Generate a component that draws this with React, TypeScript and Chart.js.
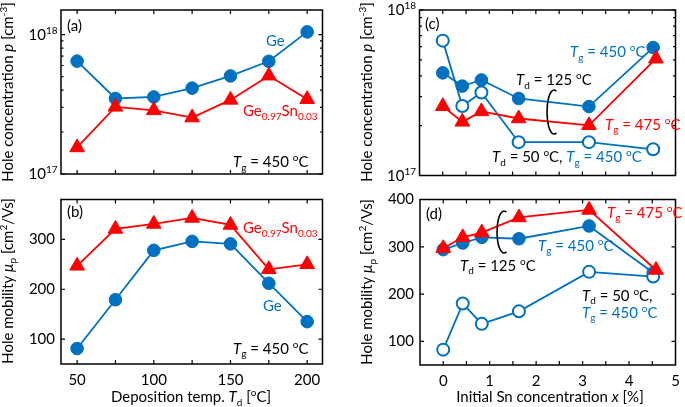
import React, { useEffect, useRef } from "react";
import { Chart, registerables } from "chart.js";
Chart.register(...registerables);

const BLUE = "#0070C0";
const RED = "#FF0000";
const FONT = "Lato";

// ---------- Data: panels (a) and (b) ----------
const tdValues = [50, 75, 100, 125, 150, 175, 200];
const geConc = [6.45e17, 3.48e17, 3.57e17, 4.13e17, 5.05e17, 6.43e17, 1.045e18];
const geSnConc = [1.55e17, 3.03e17, 2.86e17, 2.54e17, 3.4e17, 5.07e17, 3.44e17];
const geMob = [81, 179, 278, 296, 291, 212, 135];
const geSnMob = [247, 321, 331, 343, 329, 240, 250];

// ---------- Data: panels (c) and (d) ----------
const snX = [0, 0.42, 0.83, 1.63, 3.14, 4.52];
const snXTri = [0, 0.42, 0.83, 1.63, 3.14, 4.58];
const concTd125Tg450 = [4.17e17, 3.47e17, 3.78e17, 2.92e17, 2.61e17, 5.93e17];
const concTd50Tg450 = [6.53e17, 2.63e17, 3.17e17, 1.59e17, 1.59e17, 1.44e17];
const concTd125Tg475 = [2.62e17, 2.11e17, 2.44e17, 2.21e17, 2.01e17, 5.08e17];
const mobTd125Tg450 = [294, 308, 320, 317, 344, 245];
const mobTd50Tg450 = [82.5, 180, 137, 163.5, 247, 237];
const mobTd125Tg475 = [297, 320, 330, 362, 378, 251];

// ---------- Ticks ----------
const tdTicks = [50, 75, 100, 125, 150, 175, 200];
const tdLabeled = [50, 100, 150, 200];
const snTicks = [0, 0.5, 1, 1.5, 2, 2.5, 3, 3.5, 4, 4.5, 5];
const snLabeled = [0, 1, 2, 3, 4, 5];
const mobTicksB = [100, 200, 300];
const mobTicksD = [100, 200, 300, 400];
const logMajor = [1e17, 1e18];
const logMinor = [2e17, 3e17, 4e17, 5e17, 6e17, 7e17, 8e17, 9e17];

type Seg = { t: string; c?: string; i?: boolean; s?: "sub" | "sup" };
type TextItem = { segs: Seg[]; x: number; y: number; align?: "left" | "center" | "right"; rot?: number };

const pts = (xs: number[], ys: number[]) => xs.map((x, k) => ({ x, y: ys[k] }));

const T = (sub: string, val: string, c = "#000"): Seg[] => [
  { t: "T", i: true, c },
  { t: sub, s: "sub", c },
  { t: " = " + val + " ", c },
  { t: "o", s: "sup", c },
  { t: "C", c },
];
const geSnLabel: Seg[] = [
  { t: "Ge", c: RED },
  { t: "0.97", s: "sub", c: RED },
  { t: "Sn", c: RED },
  { t: "0.03", s: "sub", c: RED },
];

function drawRich(ctx: CanvasRenderingContext2D, it: TextItem, base = 15) {
  const small = 10;
  const fontFor = (sg: Seg) => `${sg.i ? "italic " : ""}${sg.s ? small : base}px ${FONT}`;
  let total = 0;
  const widths = it.segs.map((sg) => {
    ctx.font = fontFor(sg);
    const w = ctx.measureText(sg.t).width;
    total += w;
    return w;
  });
  ctx.save();
  ctx.translate(it.x, it.y);
  if (it.rot) ctx.rotate(it.rot);
  const align = it.align || "left";
  let cx = align === "left" ? 0 : align === "center" ? -total / 2 : -total;
  const baseY = base * 0.36;
  ctx.textBaseline = "alphabetic";
  ctx.textAlign = "left";
  it.segs.forEach((sg, k) => {
    ctx.font = fontFor(sg);
    ctx.fillStyle = sg.c || "#000";
    const dy = sg.s === "sub" ? 3.5 : sg.s === "sup" ? -6 : 0;
    ctx.fillText(sg.t, cx, baseY + dy);
    cx += widths[k];
  });
  ctx.restore();
}

type PanelDef = {
  canvas: { left: number; top: number; w: number; h: number };
  area: { l: number; t: number; r: number; b: number };
  xMin: number;
  xMax: number;
  xTicks: number[];
  xLabeled: number[] | null;
  yLog: boolean;
  yMin: number;
  yMax: number;
  yTicks: number[];
  yMinor: number[];
  datasets: any[];
  texts: TextItem[];
  brackets: { cx: number; cy: number; rx: number; ry: number }[];
};

const triDs = (data: any[]) => ({
  data,
  borderColor: RED,
  borderWidth: 1.8,
  pointStyle: "triangle",
  pointRadius: 8.5,
  pointBackgroundColor: RED,
  pointBorderColor: RED,
  pointBorderWidth: 1,
});
const dotDs = (data: any[]) => ({
  data,
  borderColor: BLUE,
  borderWidth: 1.8,
  pointStyle: "circle",
  pointRadius: 6.3,
  pointBackgroundColor: BLUE,
  pointBorderColor: BLUE,
  pointBorderWidth: 1,
});
const openDs = (data: any[]) => ({
  data,
  borderColor: BLUE,
  borderWidth: 1.8,
  pointStyle: "circle",
  pointRadius: 6,
  pointBackgroundColor: "#fff",
  pointBorderColor: BLUE,
  pointBorderWidth: 2,
});

const panels: PanelDef[] = [
  {
    canvas: { left: 0, top: 0, w: 342, h: 190 },
    area: { l: 61, t: 10, r: 322.5, b: 174 },
    xMin: 39.5, xMax: 210, xTicks: tdTicks, xLabeled: null,
    yLog: true, yMin: 1e17, yMax: 1.5e18, yTicks: logMajor, yMinor: logMinor,
    datasets: [triDs(pts(tdValues, geSnConc)), dotDs(pts(tdValues, geConc))],
    texts: [
      { segs: [{ t: "(a)" }], x: 67, y: 26 },
      { segs: [{ t: "Ge", c: BLUE }], x: 266, y: 41 },
      { segs: geSnLabel, x: 243, y: 111 },
      { segs: T("g", "450"), x: 233, y: 162 },
      {
        segs: [{ t: "Hole concentration " }, { t: "p", i: true }, { t: " [cm" }, { t: "-3", s: "sup" }, { t: "]" }],
        x: 7.5, y: 92, align: "center", rot: -Math.PI / 2,
      },
    ],
    brackets: [],
  },
  {
    canvas: { left: 0, top: 190, w: 342, h: 217 },
    area: { l: 61, t: 198.5, r: 322.5, b: 364 },
    xMin: 39.5, xMax: 210, xTicks: tdTicks, xLabeled: tdLabeled,
    yLog: false, yMin: 50, yMax: 380, yTicks: mobTicksB, yMinor: [],
    datasets: [triDs(pts(tdValues, geSnMob)), dotDs(pts(tdValues, geMob))],
    texts: [
      { segs: [{ t: "(b)" }], x: 67, y: 212 },
      { segs: geSnLabel, x: 243, y: 228 },
      { segs: [{ t: "Ge", c: BLUE }], x: 263, y: 306 },
      { segs: T("g", "450"), x: 233, y: 348.5 },
      {
        segs: [{ t: "Hole mobility " }, { t: "μ", i: true }, { t: "p", s: "sub" }, { t: " [cm" }, { t: "2", s: "sup" }, { t: "/Vs]" }],
        x: 7.5, y: 281, align: "center", rot: -Math.PI / 2,
      },
      {
        segs: [{ t: "Deposition temp. " }, { t: "T", i: true }, { t: "d", s: "sub" }, { t: " [" }, { t: "o", s: "sup" }, { t: "C]" }],
        x: 191, y: 397, align: "center",
      },
    ],
    brackets: [],
  },
  {
    canvas: { left: 342, top: 0, w: 343, h: 190 },
    area: { l: 419.5, t: 10, r: 682.3, b: 175.5 },
    xMin: -0.5, xMax: 5, xTicks: snTicks, xLabeled: null,
    yLog: true, yMin: 1e17, yMax: 1e18, yTicks: logMajor, yMinor: logMinor,
    datasets: [
      triDs(pts(snXTri, concTd125Tg475)),
      openDs(pts(snX, concTd50Tg450)),
      dotDs(pts(snX, concTd125Tg450)),
    ],
    texts: [
      { segs: [{ t: "(c)" }], x: 425, y: 24 },
      { segs: T("g", "450", BLUE), x: 570, y: 52 },
      { segs: T("d", "125"), x: 516, y: 80 },
      { segs: T("g", "475", RED), x: 605, y: 124.5 },
      { segs: [...T("d", "50"), { t: ", " }, ...T("g", "450", BLUE)], x: 492, y: 157 },
      {
        segs: [{ t: "Hole concentration " }, { t: "p", i: true }, { t: " [cm" }, { t: "-3", s: "sup" }, { t: "]" }],
        x: 367, y: 92, align: "center", rot: -Math.PI / 2,
      },
    ],
    brackets: [{ cx: 554, cy: 112, rx: 7, ry: 22 }],
  },
  {
    canvas: { left: 342, top: 190, w: 343, h: 217 },
    area: { l: 420, t: 199.5, r: 682.3, b: 365 },
    xMin: -0.5, xMax: 5, xTicks: snTicks, xLabeled: snLabeled,
    yLog: false, yMin: 50, yMax: 400, yTicks: mobTicksD, yMinor: [],
    datasets: [
      triDs(pts(snXTri, mobTd125Tg475)),
      openDs(pts(snX, mobTd50Tg450)),
      dotDs(pts(snX, mobTd125Tg450)),
    ],
    texts: [
      { segs: [{ t: "(d)" }], x: 426, y: 214 },
      { segs: T("g", "475", RED), x: 607, y: 212.5 },
      { segs: T("g", "450", BLUE), x: 538, y: 245.5 },
      { segs: T("d", "125"), x: 460, y: 265.5 },
      { segs: [...T("d", "50"), { t: "," }], x: 582, y: 295.5 },
      { segs: T("g", "450", BLUE), x: 582, y: 312.5 },
      {
        segs: [{ t: "Hole mobility " }, { t: "μ", i: true }, { t: "p", s: "sub" }, { t: " [cm" }, { t: "2", s: "sup" }, { t: "/Vs]" }],
        x: 367, y: 282, align: "center", rot: -Math.PI / 2,
      },
      {
        segs: [{ t: "Initial Sn concentration " }, { t: "x", i: true }, { t: " [%]" }],
        x: 550, y: 397, align: "center",
      },
    ],
    brackets: [{ cx: 504, cy: 232, rx: 7, ry: 21 }],
  },
];

function makeDecor(def: PanelDef) {
  return {
    id: "panelDecor",
    afterDraw(chart: any) {
      const ctx: CanvasRenderingContext2D = chart.ctx;
      const { left, right, top, bottom } = chart.chartArea;
      const xs = chart.scales.x;
      const ys = chart.scales.y;
      ctx.save();
      ctx.strokeStyle = "#000";
      ctx.lineWidth = 1.5;
      ctx.strokeRect(left, top, right - left, bottom - top);
      ctx.lineWidth = 1.2;
      ctx.beginPath();
      def.xTicks.forEach((v) => {
        const p = xs.getPixelForValue(v);
        ctx.moveTo(p, bottom);
        ctx.lineTo(p, bottom - 4);
        ctx.moveTo(p, top);
        ctx.lineTo(p, top + 4);
      });
      def.yTicks.forEach((v) => {
        const p = ys.getPixelForValue(v);
        ctx.moveTo(left, p);
        ctx.lineTo(left + 4, p);
        ctx.moveTo(right, p);
        ctx.lineTo(right - 4, p);
      });
      def.yMinor.forEach((v) => {
        const p = ys.getPixelForValue(v);
        ctx.moveTo(left, p);
        ctx.lineTo(left + 2.5, p);
        ctx.moveTo(right, p);
        ctx.lineTo(right - 2.5, p);
      });
      ctx.stroke();
      if (def.yLog) {
        def.yTicks.forEach((v) => {
          const exp = Math.round(Math.log10(v));
          drawRich(ctx, { segs: [{ t: "10" }, { t: String(exp), s: "sup" }], x: left - 3.5, y: ys.getPixelForValue(v), align: "right" });
        });
      }
      const ox = def.canvas.left;
      const oy = def.canvas.top;
      def.texts.forEach((it) => drawRich(ctx, { ...it, x: it.x - ox, y: it.y - oy }));
      ctx.strokeStyle = "#000";
      ctx.lineWidth = 1.6;
      def.brackets.forEach((b) => {
        ctx.beginPath();
        ctx.ellipse(b.cx - ox, b.cy - oy, b.rx, b.ry, 0, -Math.PI / 2 + 0.35, Math.PI / 2 - 0.35, true);
        ctx.stroke();
      });
      ctx.restore();
    },
  };
}

function buildConfig(def: PanelDef): any {
  const { canvas, area } = def;
  const font = { family: FONT, size: 15 };
  return {
    type: "line",
    data: { datasets: def.datasets.map((d) => ({ ...d, tension: 0, fill: false })) },
    options: {
      responsive: false,
      maintainAspectRatio: false,
      animation: false,
      layout: {
        padding: { left: 0, top: area.t - canvas.top, right: canvas.w - (area.r - canvas.left), bottom: 0 },
      },
      plugins: { legend: { display: false }, tooltip: { enabled: false } },
      scales: {
        x: {
          type: "linear",
          min: def.xMin,
          max: def.xMax,
          grid: { display: false, drawTicks: false },
          border: { display: false },
          ticks: {
            display: !!def.xLabeled,
            autoSkip: false,
            maxRotation: 0,
            padding: 7,
            font,
            color: "#000",
            callback: (v: number) => (def.xLabeled && def.xLabeled.includes(v) ? String(v) : ""),
          },
          afterBuildTicks: (s: any) => {
            s.ticks = def.xTicks.map((v) => ({ value: v }));
          },
          afterFit: (s: any) => {
            s.height = canvas.top + canvas.h - area.b;
            s.paddingLeft = 0;
            s.paddingRight = 0;
          },
        },
        y: {
          type: def.yLog ? "logarithmic" : "linear",
          min: def.yMin,
          max: def.yMax,
          grid: { display: false, drawTicks: false },
          border: { display: false },
          ticks: {
            display: !def.yLog,
            autoSkip: false,
            padding: 6,
            font,
            color: "#000",
            callback: (v: number) => String(v),
          },
          afterBuildTicks: (s: any) => {
            s.ticks = def.yTicks.map((v) => ({ value: v }));
          },
          afterFit: (s: any) => {
            s.width = area.l - canvas.left;
            s.paddingTop = 0;
            s.paddingBottom = 0;
          },
        },
      },
    },
    plugins: [makeDecor(def)],
  };
}

function Panel({ def }: { def: PanelDef }) {
  const ref = useRef<HTMLCanvasElement>(null);
  useEffect(() => {
    const chart = new Chart(ref.current as HTMLCanvasElement, buildConfig(def));
    return () => chart.destroy();
  }, [def]);
  return (
    <canvas
      ref={ref}
      width={def.canvas.w}
      height={def.canvas.h}
      style={{ position: "absolute", left: def.canvas.left, top: def.canvas.top, width: def.canvas.w, height: def.canvas.h }}
    />
  );
}

export default function App() {
  return (
    <div style={{ position: "absolute", left: 0, top: 0, width: 685, height: 407, background: "#fff", overflow: "hidden" }}>
      {panels.map((p, k) => (
        <Panel key={k} def={p} />
      ))}
    </div>
  );
}
